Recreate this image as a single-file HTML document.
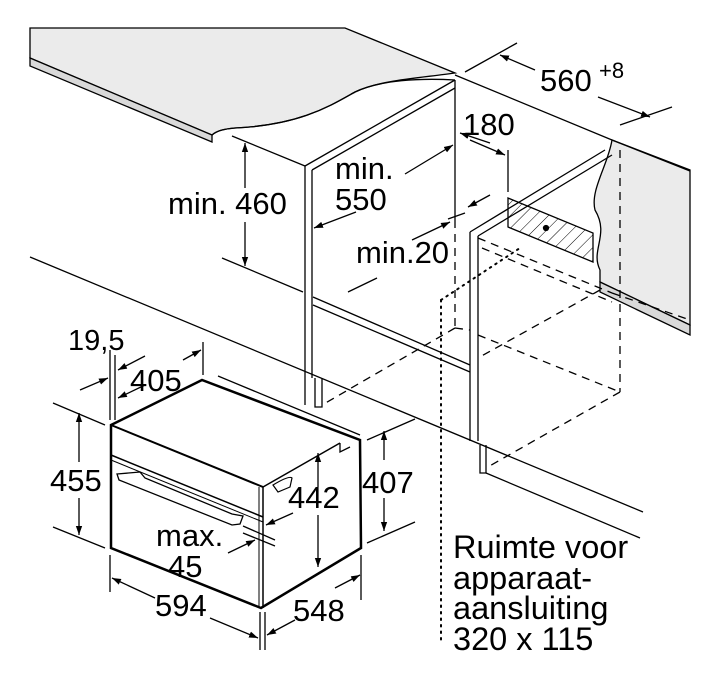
<!DOCTYPE html>
<html><head><meta charset="utf-8"><style>
html,body{margin:0;padding:0;background:#fff}
svg{display:block}
text{font-family:"Liberation Sans",Arial,sans-serif;fill:#000}
</style></head><body>
<svg width="720" height="691" viewBox="0 0 720 691" xmlns="http://www.w3.org/2000/svg">
<defs>
<marker id="a" viewBox="0 0 10 10" refX="10" refY="5" markerWidth="9" markerHeight="9" orient="auto-start-reverse" markerUnits="userSpaceOnUse"><path d="M0,1.5 L10,5 L0,8.5 z" fill="#000"/></marker>
<pattern id="h" width="9" height="9" patternUnits="userSpaceOnUse" patternTransform="rotate(45)"><line x1="0" y1="0" x2="0" y2="9" stroke="#000" stroke-width="1"/></pattern>
</defs>
<g fill="none" stroke="#000" stroke-width="1.3">
<path d="M30,28 L345,28 L455,73 C420,78 380,80 355,92 C330,106 300,125 235,128 C222,129 215,132 212,135 L30,58 Z" fill="#ebebeb"/>
<path d="M30,58 L212,135 L212,142 L30,66 Z" fill="#d9d9d9"/>
<path d="M212,135 C218,130 225,129 235,128 C300,125 330,106 355,92 C380,80 420,78 455,80" />
<path d="M612,140 L690,170 L690,325 L600,282 L600,270 C590,250 610,235 595,210 C590,190 608,165 612,140 Z" fill="#ebebeb"/>
<path d="M600,282 L690,325 L690,335 L600,292 Z" fill="#d9d9d9"/>
<line x1="612" y1="140" x2="690" y2="171"/>
<line x1="232" y1="136" x2="305" y2="166"/>
<line x1="305" y1="166" x2="455" y2="80"/>
<line x1="312" y1="170" x2="455" y2="88"/>
<line x1="455" y1="75" x2="612" y2="140"/>
<line x1="305" y1="166" x2="305" y2="405"/>
<line x1="312" y1="170" x2="312" y2="378"/>
<line x1="455" y1="80" x2="455" y2="220"/>
<line x1="222" y1="258" x2="303" y2="292"/>
<line x1="313" y1="297" x2="470" y2="365"/>
<line x1="313" y1="305" x2="470" y2="372"/>
<path d="M315,378 L315,407 L322,407 L322,378"/>
<line x1="470" y1="232" x2="470" y2="441"/>
<line x1="478" y1="236" x2="478" y2="441"/>
<line x1="470" y1="232" x2="605" y2="150"/>
<line x1="478" y1="236" x2="612" y2="155"/>
<path d="M480,445 L480,473 L486,473 L486,445"/>
<line x1="30" y1="257" x2="643" y2="512"/>
<line x1="486" y1="473" x2="640" y2="538"/>
<path d="M508,198 L593,233 L593,262 L508,227 Z" fill="url(#h)"/>
<circle cx="546" cy="228" r="2.5" fill="#000"/>
</g>
<g fill="none" stroke="#000" stroke-width="1.3" stroke-dasharray="8,6">
<line x1="478" y1="238" x2="612" y2="293"/>
<line x1="482" y1="248" x2="612" y2="302"/>
<line x1="620" y1="150" x2="620" y2="392"/>
<line x1="612" y1="293" x2="690" y2="320"/>
<line x1="478" y1="335" x2="620" y2="392"/>
<line x1="620" y1="392" x2="486" y2="468"/>
<line x1="600" y1="290" x2="478" y2="358"/>
<line x1="455" y1="328" x2="322" y2="405"/>
<line x1="455" y1="220" x2="455" y2="328"/>
<line x1="455" y1="328" x2="470" y2="330"/>
</g>
<g fill="none" stroke="#000" stroke-width="2" stroke-dasharray="1.5,5" stroke-linecap="round">
<line x1="441" y1="300" x2="441" y2="640"/>
<line x1="441" y1="300" x2="520" y2="248"/>
</g>
<g fill="none" stroke="#000">
<path d="M111,425 L202,380 L360,440 L361,548 L261,608 L111,548 Z" fill="#fff" stroke-width="2.5"/>
<line x1="111" y1="425" x2="263" y2="487" stroke-width="2"/>
<line x1="263" y1="487" x2="263" y2="608" stroke-width="1.5"/>
<line x1="259" y1="487" x2="259" y2="606" stroke-width="1"/>
<line x1="263" y1="487" x2="340" y2="443" stroke-width="1.5"/>
<path d="M340,443 L340,452 L350,447" stroke-width="1.3"/>
<line x1="111" y1="455" x2="263" y2="517" stroke-width="1.5"/>
<line x1="111" y1="460" x2="263" y2="522" stroke-width="1"/>
<path d="M117,474 L140,472 L145,478 L232,514 L243,516 L240,524 L232,525 L119,480 Z" stroke-width="1.3"/>
<path d="M273,485 C283,479 290,476 292,478 L290,487 L278,492 Z" stroke-width="1.2"/>
<line x1="218" y1="376" x2="360" y2="435" stroke-width="1.3"/>
</g>
<g fill="none" stroke="#000" stroke-width="1.3">
<line x1="245" y1="188" x2="245" y2="143" marker-end="url(#a)"/>
<line x1="245" y1="222" x2="245" y2="266" marker-end="url(#a)"/>
<line x1="405" y1="174" x2="453" y2="145" marker-end="url(#a)"/>
<line x1="356" y1="212" x2="314" y2="228" marker-end="url(#a)"/>
<line x1="465" y1="72" x2="517" y2="43"/>
<line x1="620" y1="125" x2="672" y2="107"/>
<line x1="535" y1="70" x2="500" y2="55" marker-end="url(#a)"/>
<line x1="598" y1="97" x2="650" y2="117" marker-end="url(#a)"/>
<line x1="490" y1="143" x2="460" y2="133" marker-end="url(#a)"/>
<line x1="470" y1="140" x2="505" y2="155" marker-end="url(#a)"/>
<line x1="508" y1="150" x2="508" y2="192"/>
<line x1="490" y1="195" x2="468" y2="207" marker-end="url(#a)"/>
<line x1="412" y1="240" x2="450" y2="222" marker-end="url(#a)"/>
<line x1="448" y1="219" x2="465" y2="213"/>
<line x1="348" y1="292" x2="377" y2="278"/>
<line x1="110" y1="350" x2="110" y2="420"/>
<line x1="115" y1="355" x2="115" y2="420"/>
<line x1="203" y1="342" x2="203" y2="375"/>
<line x1="80" y1="390" x2="108" y2="378" marker-end="url(#a)"/>
<line x1="145" y1="356" x2="118" y2="370" marker-end="url(#a)"/>
<line x1="145" y1="385" x2="118" y2="398" marker-end="url(#a)"/>
<line x1="183" y1="360" x2="201" y2="350" marker-end="url(#a)"/>
<line x1="53" y1="403" x2="105" y2="425"/>
<line x1="53" y1="527" x2="105" y2="548"/>
<line x1="79" y1="462" x2="79" y2="413" marker-end="url(#a)"/>
<line x1="79" y1="498" x2="79" y2="535" marker-end="url(#a)"/>
<line x1="110" y1="555" x2="110" y2="592"/>
<line x1="260" y1="612" x2="260" y2="650"/>
<line x1="265" y1="612" x2="265" y2="650"/>
<line x1="361" y1="555" x2="361" y2="600"/>
<line x1="155" y1="598" x2="112" y2="578" marker-end="url(#a)"/>
<line x1="210" y1="618" x2="258" y2="638" marker-end="url(#a)"/>
<line x1="295" y1="620" x2="267" y2="635" marker-end="url(#a)"/>
<line x1="335" y1="588" x2="360" y2="575" marker-end="url(#a)"/>
<line x1="367" y1="440" x2="415" y2="419"/>
<line x1="367" y1="543" x2="415" y2="522"/>
<line x1="384" y1="460" x2="384" y2="431" marker-end="url(#a)"/>
<line x1="384" y1="498" x2="384" y2="531" marker-end="url(#a)"/>
<line x1="318" y1="487" x2="318" y2="453" marker-end="url(#a)"/>
<line x1="318" y1="515" x2="318" y2="567" marker-end="url(#a)"/>
<line x1="243" y1="526" x2="275" y2="540"/>
<line x1="243" y1="533" x2="275" y2="546"/>
<line x1="293" y1="513" x2="266" y2="525" marker-end="url(#a)"/>
<line x1="228" y1="553" x2="255" y2="540" marker-end="url(#a)"/>
</g>
<g font-size="31">
<text x="168" y="214">min. 460</text>
<text x="335" y="179">min.</text>
<text x="335" y="210">550</text>
<text x="463" y="135">180</text>
<text x="540" y="91">560</text>
<text x="599" y="78" font-size="22">+8</text>
<text x="356" y="263">min.20</text>
<text x="68" y="350" font-size="29">19,5</text>
<text x="130" y="391">405</text>
<text x="50" y="491">455</text>
<text x="288" y="508">442</text>
<text x="362" y="493">407</text>
<text x="156" y="546">max.</text>
<text x="168" y="577">45</text>
<text x="155" y="616">594</text>
<text x="293" y="621">548</text>
</g>
<g font-size="32.5">
<text x="453" y="558">Ruimte voor</text>
<text x="453" y="589">apparaat-</text>
<text x="453" y="619">aansluiting</text>
<text x="453" y="650">320 x 115</text>
</g>
</svg>
</body></html>
